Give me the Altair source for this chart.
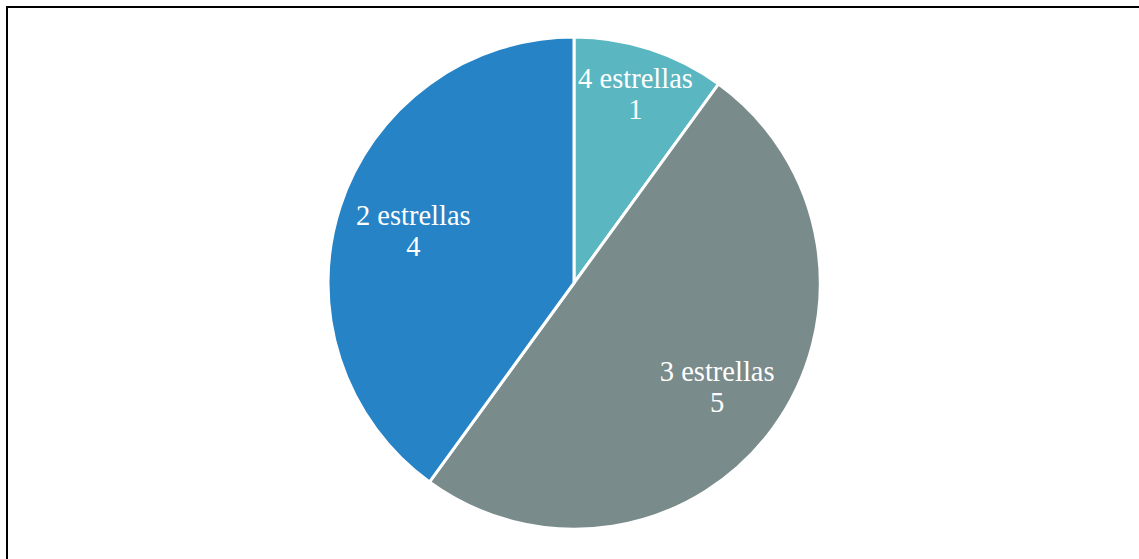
import altair as alt
import pandas as pd

categories = ["4 estrellas", "3 estrellas", "2 estrellas"]
values = [1, 5, 4]
colors = ["#5AB6C1", "#7A8B8B", "#2683C6"]

df = pd.DataFrame({"cat": categories, "value": values, "order": list(range(len(categories)))})

CX, CY, R = 574, 283, 246

pie = alt.Chart(df).mark_arc(radius=R, stroke="white", strokeWidth=3).encode(
    theta=alt.Theta("value:Q", stack=True),
    order=alt.Order("order:Q"),
    x=alt.value(CX),
    y=alt.value(CY),
    color=alt.Color("cat:N", scale=alt.Scale(domain=categories, range=colors), legend=None),
)

labels = alt.Chart(df).transform_joinaggregate(
    total="sum(value)"
).transform_window(
    cum="sum(value)", sort=[alt.SortField("order")], frame=[None, 0]
).transform_calculate(
    mid="(datum.cum - datum.value / 2) / datum.total * 2 * PI",
    label="datum.cat + '\\n' + datum.value",
    labelR="datum.cat == '4 estrellas' ? 199 : (datum.cat == '3 estrellas' ? 177 : 169)",
).mark_text(
    font="Liberation Serif", fontSize=28.5,
    color="white", lineBreak="\n",
    align="center", baseline="middle", lineHeight=31, dy=-15,
).encode(
    x=alt.value(CX),
    y=alt.value(CY),
    theta=alt.Theta("mid:Q", scale=None),
    radius=alt.Radius("labelR:Q", scale=None),
    text="label:N",
)

border_df = pd.DataFrame({"k": [0]})
top = alt.Chart(border_df).mark_rule(color="black", strokeWidth=2).encode(
    x=alt.value(6), x2=alt.value(1139), y=alt.value(7)
)
left = alt.Chart(border_df).mark_rule(color="black", strokeWidth=2).encode(
    x=alt.value(7), y=alt.value(6), y2=alt.value(559)
)

chart = alt.layer(pie, labels, top, left).properties(
    width=1139, height=559, autosize=alt.AutoSizeParams(type="none"), padding=0,
    background="white",
).resolve_scale(theta="independent").configure_view(stroke=None)

chart.save("out.html", embed_options={"renderer": "svg", "actions": False})
